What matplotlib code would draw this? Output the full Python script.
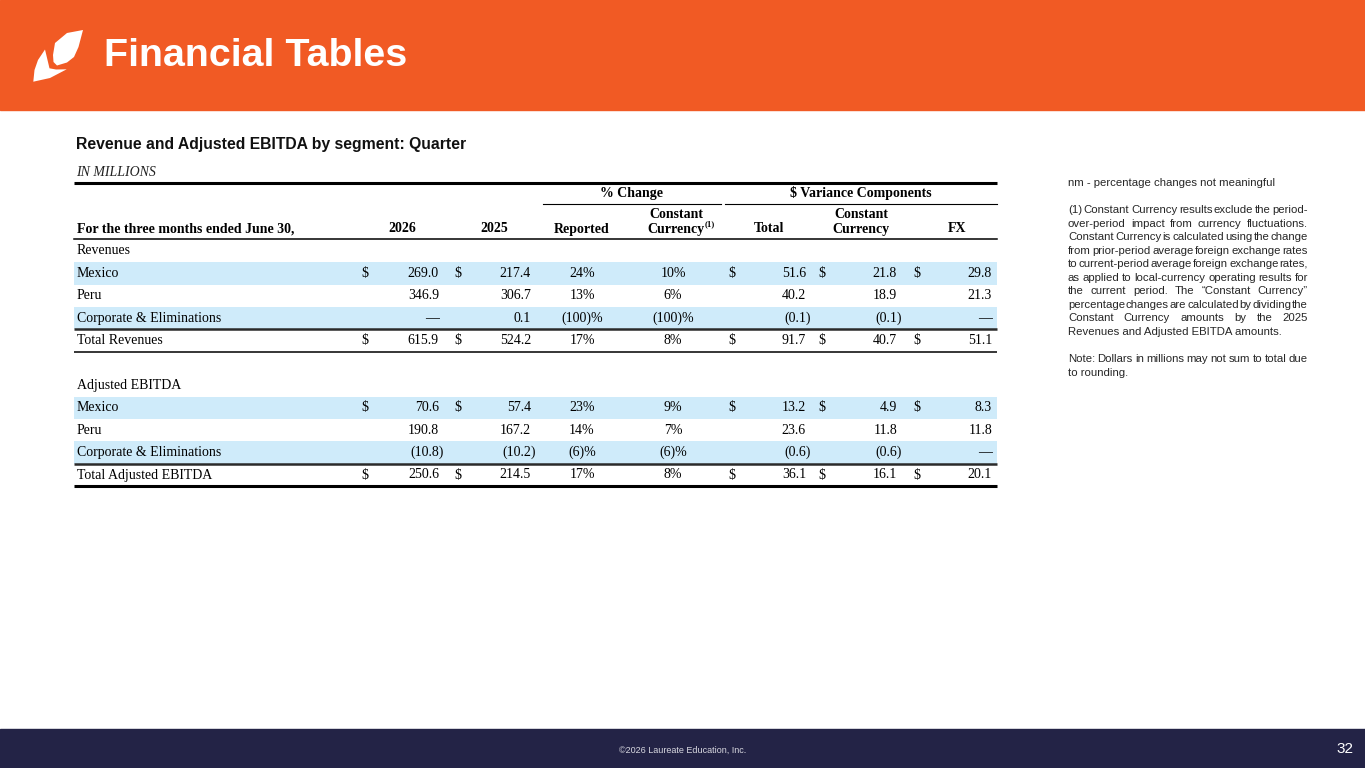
import matplotlib
matplotlib.use("Agg")
import matplotlib.pyplot as plt
from matplotlib.patches import Rectangle, Polygon

# ---- data ----
rev_labels = ["Mexico", "Peru", "Corporate & Eliminations", "Total Revenues"]
rev_2026 = [269.0, 346.9, None, 615.9]
rev_2025 = [217.4, 306.7, 0.1, 524.2]
rev_reported = [24, 13, -100, 17]
rev_const_pct = [10, 6, -100, 8]
rev_var_total = [51.6, 40.2, -0.1, 91.7]
rev_var_const = [21.8, 18.9, -0.1, 40.7]
rev_var_fx = [29.8, 21.3, None, 51.1]

ebitda_labels = ["Mexico", "Peru", "Corporate & Eliminations", "Total Adjusted EBITDA"]
ebitda_2026 = [70.6, 190.8, -10.8, 250.6]
ebitda_2025 = [57.4, 167.2, -10.2, 214.5]
ebitda_reported = [23, 14, -6, 17]
ebitda_const_pct = [9, 7, -6, 8]
ebitda_var_total = [13.2, 23.6, -0.6, 36.1]
ebitda_var_const = [4.9, 11.8, -0.6, 16.1]
ebitda_var_fx = [8.3, 11.8, None, 20.1]

footnote_nm = "nm - percentage changes not meaningful"
footnote_1 = [
    "(1) Constant Currency results exclude the period-",
    "over-period impact from currency fluctuations.",
    "Constant Currency is calculated using the change",
    "from prior-period average foreign exchange rates",
    "to current-period average foreign exchange rates,",
    "as applied to local-currency operating results for",
    "the current period. The \u201cConstant Currency\u201d",
    "percentage changes are calculated by dividing the",
    "Constant Currency amounts by the 2025",
    "Revenues and Adjusted EBITDA amounts.",
]
footnote_note = [
    "Note:  Dollars in millions may not sum to total due",
    "to rounding.",
]

ORANGE = "#F15A24"
NAVY = "#232346"
BAND = "#CFEBFA"
SERIF = "Liberation Serif"
SANS = "Liberation Sans"


def money(v):
    if v is None:
        return "\u2014"
    if v < 0:
        return "(%.1f)" % abs(v)
    return "%.1f" % v


def pct(v):
    if v < 0:
        return "(%d)%%" % abs(v)
    return "%d%%" % v


fig = plt.figure(figsize=(13.65, 7.68), dpi=100)
ax = fig.add_axes([0, 0, 1, 1])
ax.set_xlim(0, 1365)
ax.set_ylim(768, 0)
ax.axis("off")


def txt(x, y, s, **kw):
    kw.setdefault("family", SERIF)
    kw.setdefault("fontsize", 10)
    kw.setdefault("va", "center")
    kw.setdefault("color", "black")
    return ax.text(x, y, s, parse_math=False, **kw)


# header band and logo
ax.add_patch(Rectangle((0, 0), 1365, 110, color=ORANGE, zorder=0))
ax.add_patch(Polygon([(83, 30), (67, 33), (55, 43), (53, 55), (53.5, 62), (57, 65.5),
                      (67, 62.5), (74, 57), (78.5, 47)], closed=True, color="white", lw=0))
ax.add_patch(Polygon([(45, 49.5), (38, 60), (34.5, 70), (33.3, 81.7), (50, 78),
                      (66.7, 69.3), (56, 69.5), (49.5, 68.3)], closed=True, color="white", lw=0))
txt(104, 56, "Financial Tables", family=SANS, fontsize=28.4, fontweight="bold", color="white")

# footer
ax.add_patch(Rectangle((0, 729), 1365, 39, color=NAVY, zorder=0))
txt(683, 750, "\u00a92026 Laureate Education, Inc.", family=SANS, fontsize=6.5,
    color="#d8d8e0", ha="center")
txt(1345, 749, "32", family=SANS, fontsize=11, color="white", ha="center")

# subtitle
txt(76, 145, "Revenue and Adjusted EBITDA by segment: Quarter", family=SANS,
    fontsize=11.3, fontweight="bold", color="#111111")
txt(76, 173, "IN MILLIONS", fontstyle="italic", color="#222222")

X0, X1 = 74, 997
ax.plot([X0, X1], [183, 183], color="black", lw=2.2, solid_capstyle="butt")

# column headers
txt(632, 193, "% Change", fontweight="bold", ha="center")
txt(861, 193, "$ Variance Components", fontweight="bold", ha="center")
ax.plot([543, 721], [204, 204], color="black", lw=0.8)
ax.plot([725, X1], [204, 204], color="black", lw=0.8)

hy = 229
txt(77, hy, "For the three months ended June 30,", fontweight="bold")
txt(402, hy, "2026", fontweight="bold", ha="center")
txt(494, hy, "2025", fontweight="bold", ha="center")
txt(582, hy, "Reported", fontweight="bold", ha="center")
txt(676, 215, "Constant", fontweight="bold", ha="center")
txt(705, hy, "Currency", fontweight="bold", ha="right")
txt(705, 224, "(1)", fontweight="bold", fontsize=6.3, ha="left")
txt(769, hy, "Total", fontweight="bold", ha="center")
txt(861, 215, "Constant", fontweight="bold", ha="center")
txt(861, hy, "Currency", fontweight="bold", ha="center")
txt(957, hy, "FX", fontweight="bold", ha="center")
ax.plot([X0, X1], [238.5, 238.5], color="black", lw=1.1)

# body
Y0, PITCH = 251, 22.4
money_cols = [(365, 439), (458, 531), (732, 806), (822, 897), (917, 992)]
pct_cols = [582, 673]


def draw_section(title, start, labels, c26, c25, rep, cpct, vt, vc, vfx):
    txt(77, Y0 + start * PITCH, title)
    money_data = [c26, c25, vt, vc, vfx]
    for i, lab in enumerate(labels):
        y = Y0 + (start + 1 + i) * PITCH
        if i in (0, 2):
            ax.add_patch(Rectangle((X0, y - PITCH / 2), X1 - X0, PITCH, color=BAND, lw=0, zorder=0))
        txt(77, y, lab)
        for (xd, xr), col in zip(money_cols, money_data):
            s = money(col[i])
            if i in (0, len(labels) - 1):
                txt(xd, y, "$", ha="center")
            xoff = 4.5 if s.endswith(")") else 0
            txt(xr + xoff, y, s, ha="right")
        for xc, col in zip(pct_cols, [rep, cpct]):
            txt(xc, y, pct(col[i]), ha="center")
    yc = Y0 + (start + 3) * PITCH + PITCH / 2
    ax.plot([X0, X1], [yc, yc], color="#2a2a2a", lw=1.8, solid_capstyle="butt")
    return Y0 + (start + 4) * PITCH + PITCH / 2


yb = draw_section("Revenues", 0, rev_labels, rev_2026, rev_2025, rev_reported,
                  rev_const_pct, rev_var_total, rev_var_const, rev_var_fx)
ax.plot([X0, X1], [yb, yb], color="black", lw=1.1, solid_capstyle="butt")
yb = draw_section("Adjusted EBITDA", 6, ebitda_labels, ebitda_2026, ebitda_2025,
                  ebitda_reported, ebitda_const_pct, ebitda_var_total,
                  ebitda_var_const, ebitda_var_fx)
ax.plot([X0, X1], [yb, yb], color="black", lw=2.2, solid_capstyle="butt")

# footnotes (justified)
renderer = fig.canvas.get_renderer()
FX0, FX1 = 1068, 1308
note_kw = dict(family=SANS, fontsize=8.2, color="#262626")


def paragraph(lines, y, step=13.55):
    for j, line in enumerate(lines):
        yy = y + j * step
        words = line.split()
        if j == len(lines) - 1 or len(words) < 2:
            txt(FX0, yy, line, **note_kw)
            continue
        items = [txt(FX0, yy, w, **note_kw) for w in words]
        widths = [t.get_window_extent(renderer).width for t in items]
        gap = (FX1 - FX0 - sum(widths)) / (len(words) - 1)
        xx = FX0
        for t, w in zip(items, widths):
            t.set_x(xx)
            xx += w + gap


txt(FX0, 183, footnote_nm, **note_kw)
paragraph(footnote_1, 210)
paragraph(footnote_note, 359.5)

fig.savefig("out.png", dpi=100)
